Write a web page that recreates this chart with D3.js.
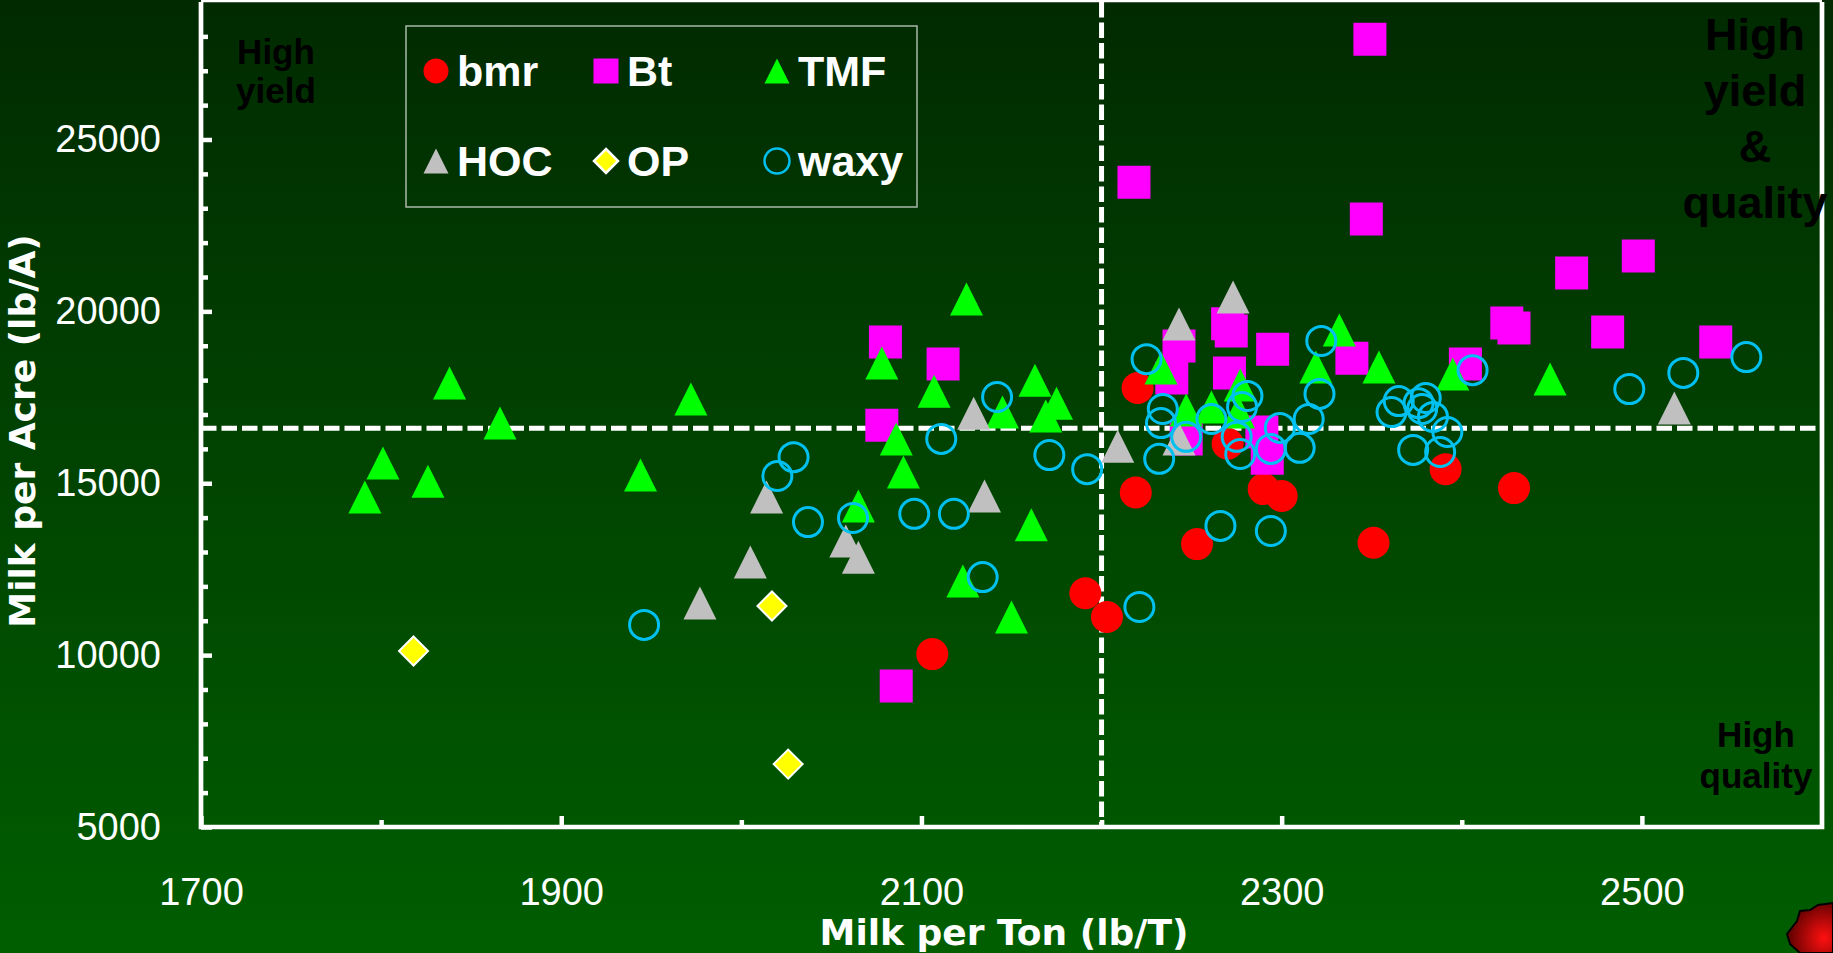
<!DOCTYPE html>
<html>
<head>
<meta charset="utf-8">
<script src="https://cdn.jsdelivr.net/npm/d3@7"></script>
<style>
  body { margin: 0; background: #013a01; }
  svg { display: block; }
  .tick text { font-family: 'Liberation Sans', Arial, sans-serif; }
</style>
</head>
<body>
<svg id="chart" width="1833" height="953"></svg>
<script>
// values: [milk per ton, milk per acre]
const bmr = [
  [2106, 10030], [2191, 11800], [2203, 11110], [2219, 14730], [2220, 17770], [2253, 13230],
  [2270, 16150], [2290, 14830], [2300, 14630], [2351, 13270], [2391, 15410], [2429, 14860],
];
const bt = [
  [2349, 27920], [2218, 23760], [2347, 22690], [2498, 21610], [2461, 21120], [2425, 19660],
  [2429, 19520], [2481, 19400], [2541, 19110], [2402, 18470], [2080, 19110], [2112, 18470],
  [2078, 16690], [2086, 9100], [2243, 18990], [2239, 18060], [2270, 19640], [2272, 19430],
  [2271, 18210], [2295, 18900], [2339, 18640], [2247, 16290], [2289, 16490], [2292, 15730],
];
const tmf = [
  [1791, 14600], [1801, 15590], [1826, 15060], [1838, 17920], [1866, 16750], [1944, 15240],
  [1972, 17450], [2078, 18500], [2107, 17680], [2125, 20360], [2145, 17070], [2086, 16290],
  [2090, 15330], [2065, 14340], [2123, 12160], [2163, 18000], [2175, 17330], [2169, 16960],
  [2161, 13790], [2150, 11110], [2233, 18350], [2247, 17130], [2261, 17220], [2277, 17860],
  [2276, 17070], [2332, 19460], [2319, 18380], [2354, 18380], [2395, 18180], [2449, 18030],
];
const hoc = [
  [1977, 11520], [2005, 12710], [2014, 14600], [2058, 13320], [2065, 12850], [2129, 17040],
  [2135, 14630], [2209, 16080], [2243, 19630], [2273, 20420], [2243, 16290], [2518, 17190],
];
const op = [[1818, 10120], [2017, 11430], [2026, 6830]];
const waxy = [
  [1946, 10880], [2020, 15210], [2029, 15760], [2037, 13870], [2062, 13990], [2096, 14110],
  [2118, 14110], [2111, 16290], [2142, 17510], [2134, 12270], [2171, 15820], [2192, 15410],
  [2221, 11400], [2225, 18610], [2234, 17160], [2233, 16750], [2232, 15710], [2247, 16350],
  [2261, 16870], [2281, 17540], [2278, 17220], [2275, 16350], [2277, 15850], [2294, 16000],
  [2299, 16610], [2315, 16870], [2310, 16030], [2321, 17600], [2322, 19140], [2266, 13760],
  [2294, 13610], [2365, 17390], [2361, 17070], [2373, 15970], [2380, 17480], [2376, 17330],
  [2378, 17160], [2384, 16930], [2392, 16490], [2388, 15910], [2406, 18290], [2493, 17740],
  [2523, 18210], [2558, 18670],
];

const xMajor = [1700, 1900, 2100, 2300, 2500];
const xMinor = [1800, 2000, 2200, 2400];
const yMajor = [5000, 10000, 15000, 20000, 25000];
const yMinor = d3.range(6000, 29000, 1000).filter(v => v % 5000 !== 0);
const xCut = 2200;
const yCut = 16600;

const series = [
  { key: 'bmr', values: bmr, shape: 'circle', fill: '#ff0000', stroke: 'none' },
  { key: 'Bt', values: bt, shape: 'square', fill: '#ff00ff', stroke: 'none' },
  { key: 'TMF', values: tmf, shape: 'triangle', fill: '#00ff00', stroke: 'none' },
  { key: 'HOC', values: hoc, shape: 'triangle', fill: '#c0c0c0', stroke: 'none' },
  { key: 'OP', values: op, shape: 'diamond', fill: '#ffff00', stroke: '#ffffff' },
  { key: 'waxy', values: waxy, shape: 'ring', fill: 'none', stroke: '#00c0f0' },
];

const width = 1833;
const height = 953;
const padding = { top: 2, right: 11, bottom: 126, left: 201 };

const xScale = d3.scaleLinear().domain([1700, 2600]).range([padding.left, width - padding.right]);
const yScale = d3.scaleLinear().domain([5000, 29000]).range([height - padding.bottom, padding.top]);

const svg = d3.select('#chart');
const font = "'Liberation Sans', Arial, sans-serif";
const titleFont = "'DejaVu Sans', Verdana, sans-serif";

// background gradient
const defs = svg.append('defs');
const bg = defs.append('linearGradient').attr('id', 'bg').attr('x1', 0).attr('y1', 0).attr('x2', 0).attr('y2', 1);
bg.append('stop').attr('offset', '0%').attr('stop-color', '#012a01');
bg.append('stop').attr('offset', '100%').attr('stop-color', '#005e00');
const blob = defs.append('radialGradient').attr('id', 'blob').attr('cx', '80%').attr('cy', '70%').attr('r', '80%');
blob.append('stop').attr('offset', '0%').attr('stop-color', '#ff1010');
blob.append('stop').attr('offset', '100%').attr('stop-color', '#5a0000');

svg.append('rect').attr('width', width).attr('height', height).attr('fill', 'url(#bg)');

/**
 * path for one marker, centred on 0,0
 */
function markerPath(shape, s) {
  const h = s / 2;
  if (shape === 'square') return `M${-h},${-h}H${h}V${h}H${-h}Z`;
  if (shape === 'triangle') return `M0,${-h}L${h},${h}L${-h},${h}Z`;
  if (shape === 'diamond') return `M0,${-h}L${h},0L0,${h}L${-h},0Z`;
  return d3.arc()({ innerRadius: 0, outerRadius: h, startAngle: 0, endAngle: 2 * Math.PI });
}

function markerSize(shape) {
  if (shape === 'square') return 33;
  if (shape === 'triangle') return 33;
  if (shape === 'diamond') return 29;
  if (shape === 'ring') return 29;
  return 32;
}

// dashed quadrant lines
const [x0, x1] = xScale.range();
const [y0, y1] = yScale.range();
svg.append('line')
  .attr('x1', xScale(xCut)).attr('x2', xScale(xCut))
  .attr('y1', y1).attr('y2', y0)
  .attr('stroke', '#fff').attr('stroke-width', 5).attr('stroke-dasharray', '15.5 5');
svg.append('line')
  .attr('x1', x0).attr('x2', x1)
  .attr('y1', yScale(yCut)).attr('y2', yScale(yCut))
  .attr('stroke', '#fff').attr('stroke-width', 5).attr('stroke-dasharray', '15.5 5');

// axes
function styleAxis(g) {
  g.select('.domain').remove();
  g.selectAll('.tick line').attr('stroke', '#fff').attr('stroke-width', 4.5);
  g.selectAll('.tick text').attr('fill', '#fff').attr('font-size', 38);
}

svg.append('g')
  .attr('transform', `translate(0,${y0})`)
  .call(d3.axisBottom(xScale).tickValues(xMinor).tickSize(-7).tickFormat(''))
  .call(styleAxis);
svg.append('g')
  .attr('transform', `translate(0,${y0})`)
  .call(d3.axisBottom(xScale).tickValues(xMajor).tickSize(-11).tickPadding(51).tickFormat(d3.format('d')))
  .call(styleAxis);
svg.append('g')
  .attr('transform', `translate(${x0},0)`)
  .call(d3.axisLeft(yScale).tickValues(yMinor).tickSize(-7).tickFormat(''))
  .call(styleAxis);
svg.append('g')
  .attr('transform', `translate(${x0},0)`)
  .call(d3.axisLeft(yScale).tickValues(yMajor).tickSize(-11).tickPadding(40).tickFormat(d3.format('d')))
  .call(styleAxis);

// frame
svg.append('path')
  .attr('d', `M${x0},${y1}V${y0}H${x1}V${y1}`)
  .attr('fill', 'none').attr('stroke', '#fff').attr('stroke-width', 4.7);
svg.append('line')
  .attr('x1', x0).attr('x2', x1).attr('y1', 1).attr('y2', 1)
  .attr('stroke', '#fff').attr('stroke-width', 2.5);

// points
const groups = svg.selectAll('.series').data(series, d => d.key)
  .enter().append('g').attr('class', 'series');

groups.selectAll('path')
  .data(d => d.values.map(v => ({ v, s: d })))
  .enter().append('path')
  .attr('transform', d => `translate(${xScale(d.v[0])},${yScale(d.v[1])})`)
  .attr('d', d => markerPath(d.s.shape, markerSize(d.s.shape)))
  .attr('fill', d => d.s.fill)
  .attr('stroke', d => d.s.stroke)
  .attr('stroke-width', d => (d.s.shape === 'ring' ? 3 : 2));

// legend
const legend = svg.append('g');
legend.append('rect')
  .attr('x', 406).attr('y', 26).attr('width', 511).attr('height', 181)
  .attr('fill', 'none').attr('stroke', '#a8b8a8').attr('stroke-width', 1.5);

const legX = [436, 606, 777];
const legY = [71, 161];
const item = legend.selectAll('.item').data(series).enter().append('g')
  .attr('transform', (d, i) => `translate(${legX[i % 3]},${legY[Math.floor(i / 3)]})`);
item.append('path')
  .attr('d', d => markerPath(d.shape, d.shape === 'diamond' ? 24 : 25))
  .attr('fill', d => d.fill)
  .attr('stroke', d => d.stroke)
  .attr('stroke-width', 2.5);
item.append('text')
  .attr('x', 21).attr('y', 15)
  .attr('fill', '#fff').attr('font-family', font).attr('font-weight', 'bold').attr('font-size', 43)
  .text(d => d.key);

// axis titles
svg.append('text')
  .attr('x', 1004).attr('y', 945)
  .attr('text-anchor', 'middle')
  .attr('fill', '#fff').attr('font-family', titleFont).attr('font-weight', 'bold').attr('font-size', 36)
  .text('Milk per Ton (lb/T)');
svg.append('text')
  .attr('transform', 'translate(35,431) rotate(-90)')
  .attr('text-anchor', 'middle')
  .attr('fill', '#fff').attr('font-family', titleFont).attr('font-weight', 'bold').attr('font-size', 36)
  .text('Milk per Acre (lb/A)');

// quadrant notes
function note(lines, cx, y, size, gap) {
  const t = svg.append('text')
    .attr('text-anchor', 'middle')
    .attr('fill', '#000').attr('font-family', font).attr('font-weight', 'bold').attr('font-size', size);
  lines.forEach((l, i) => t.append('tspan').attr('x', cx).attr('y', y + i * gap).text(l));
}
note(['High', 'yield'], 276, 64, 35, 39);
note(['High', 'yield', '&', 'quality'], 1755, 50, 45, 56);
note(['High', 'quality'], 1756, 747, 35, 41);

// decoration in the bottom right corner
svg.append('path')
  .attr('d', 'M1833,903L1818,905L1810,910L1800,911L1797,921L1787,934L1790,944L1800,953L1833,953Z')
  .attr('fill', 'url(#blob)').attr('stroke', '#000').attr('stroke-width', 2);
</script>
</body>
</html>
